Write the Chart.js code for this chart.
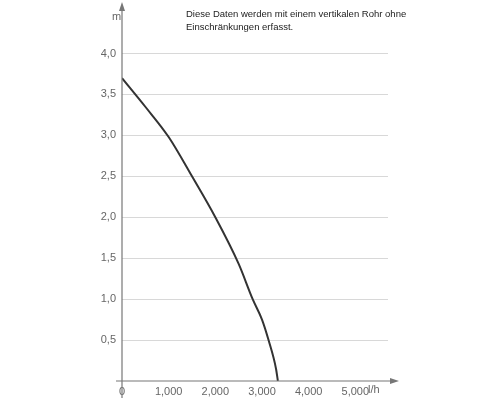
<!DOCTYPE html>
<html>
<head>
<meta charset="utf-8">
<script src="https://cdn.jsdelivr.net/npm/chart.js@4"></script>
<style>
  body { margin: 0; background: #fff; }
  #wrap { width: 500px; height: 400px; }
</style>
</head>
<body>
<div id="wrap"><canvas id="c"></canvas></div>
<script>
// Förderhöhe (m) über Fördermenge (l/h)
const flow = [0, 500, 1000, 1500, 2000, 2500, 2800, 3000, 3140, 3300, 3340];
const head = [3.7, 3.35, 2.98, 2.5, 2.0, 1.43, 1.0, 0.75, 0.5, 0.15, 0];
const xTicks = [0, 1000, 2000, 3000, 4000, 5000];
const yTicks = [0.5, 1.0, 1.5, 2.0, 2.5, 3.0, 3.5, 4.0];
const note = ['Diese Daten werden mit einem vertikalen Rohr ohne', 'Einschränkungen erfasst.'];

const grey = '#666';
const font = { family: 'Liberation Sans', size: 11 };

const axesPlugin = {
    id: 'axes',
    afterDraw(chart) {
        const { ctx, chartArea: a, scales } = chart;
        const x0 = scales.x.getPixelForValue(0);
        const y0 = scales.y.getPixelForValue(0);
        ctx.save();
        ctx.strokeStyle = '#777';
        ctx.fillStyle = '#777';
        ctx.lineWidth = 1.2;
        ctx.beginPath();
        ctx.moveTo(x0, 398); ctx.lineTo(x0, 6);
        ctx.moveTo(x0 - 6, y0); ctx.lineTo(a.right + 6, y0);
        ctx.stroke();
        ctx.beginPath();
        ctx.moveTo(x0, 2); ctx.lineTo(x0 - 3, 11); ctx.lineTo(x0 + 3, 11); ctx.fill();
        ctx.beginPath();
        ctx.moveTo(a.right + 11, y0); ctx.lineTo(a.right + 2, y0 - 3); ctx.lineTo(a.right + 2, y0 + 3); ctx.fill();
        ctx.fillStyle = grey;
        ctx.font = '11px "Liberation Sans"';
        ctx.textAlign = 'left';
        ctx.fillText('m', 112, 20);
        ctx.fillText('l/h', 368, 393);
        ctx.fillStyle = '#222';
        ctx.font = '9.5px "Liberation Sans"';
        ctx.fillText(note[0], 186, 17);
        ctx.fillText(note[1], 186, 30);
        ctx.restore();
    }
};

new Chart(document.getElementById('c'), {
    type: 'line',
    data: {
        datasets: [{
            data: flow.map((v, i) => ({ x: v, y: head[i] })),
            borderColor: '#333',
            borderWidth: 2,
            pointRadius: 0,
            cubicInterpolationMode: 'monotone',
            fill: false
        }]
    },
    options: {
        responsive: true,
        maintainAspectRatio: false,
        animation: false,
        devicePixelRatio: 1,
        layout: { padding: { top: 7, right: 112, left: 0, bottom: 0 } },
        plugins: { legend: { display: false }, tooltip: { enabled: false } },
        scales: {
            x: {
                type: 'linear', min: 0, max: 5700,
                afterBuildTicks: s => { s.ticks = xTicks.map(v => ({ value: v })); },
                afterFit: s => { s.height = 19; },
                grid: { display: false, drawTicks: false },
                border: { display: false },
                ticks: { color: grey, font, padding: 4, maxRotation: 0 }
            },
            y: {
                min: 0, max: 4.5,
                afterBuildTicks: s => { s.ticks = yTicks.map(v => ({ value: v })); },
                afterFit: s => { s.width = 122; },
                grid: { color: '#d8d8d8', drawTicks: false, lineWidth: 1 },
                border: { display: false },
                ticks: { color: grey, font, padding: 6, callback: v => v.toFixed(1).replace('.', ',') }
            }
        }
    },
    plugins: [axesPlugin]
});
</script>
</body>
</html>
